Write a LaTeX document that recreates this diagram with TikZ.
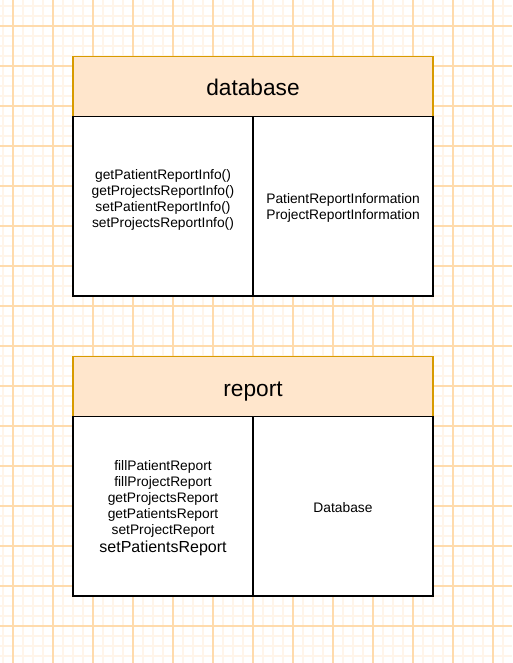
\documentclass[tikz,border=0pt]{standalone}
\usepackage{fontspec}
\setmainfont{Liberation Sans}
\definecolor{gridmajor}{RGB}{255,219,172}
\definecolor{gridminor}{RGB}{255,245,234}
\definecolor{hdrfill}{RGB}{255,230,204}
\definecolor{hdrdraw}{RGB}{215,155,0}
\begin{document}
\begin{tikzpicture}[x=0.75pt,y=-0.75pt,
  hdrbox/.style={fill=hdrfill,draw=hdrdraw,line width=0.8pt},
  bodybox/.style={fill=white,draw=black,line width=0.9pt},
  hdrtext/.style={inner sep=0pt,anchor=base,font=\fontsize{17}{20}\selectfont},
  celltext/.style={inner sep=0pt,align=center,font=\fontsize{10.35}{12}\selectfont},
  bigtext/.style={inner sep=0pt,font=\fontsize{12}{14}\selectfont}]
\useasboundingbox (0,0) rectangle (512,663);
\fill[white] (0,0) rectangle (512,663);
% minor grid
\foreach \x in {3,23,33,43,63,73,83,103,113,123,143,153,163,183,193,203,223,233,243,263,273,283,303,313,323,343,353,363,383,393,403,423,433,443,463,473,483,503}
  \draw[gridminor,line width=1pt] (\x,0) -- (\x,663);
\foreach \y in {6,16,36,46,56,76,86,96,116,126,136,156,166,176,196,206,216,236,246,256,276,286,296,316,326,336,356,366,376,396,406,416,436,446,456,476,486,496,516,526,536,556,566,576,596,606,616,636,646,656}
  \draw[gridminor,line width=1pt] (0,\y) -- (512,\y);
% major grid
\foreach \x in {13,53,...,493}
  \draw[gridmajor,line width=0.8pt] (\x,0) -- (\x,663);
\foreach \y in {26,66,...,646}
  \draw[gridmajor,line width=0.8pt] (0,\y) -- (512,\y);
% database class
\draw[hdrbox] (73,56.5) rectangle (433,116.5);
\node[hdrtext] (dbtitle) at (253,96) {database};
\draw[bodybox] (73,116.5) rectangle (433,296);
\draw[bodybox] (253,116.5) -- (253,296);
\node[celltext] (dbmethods) at (163,199.5) {getPatientReportInfo()\\getProjectsReportInfo()\\setPatientReportInfo()\\setProjectsReportInfo()};
\node[celltext] (dbattrs) at (343,207.5) {PatientReportInformation\\ProjectReportInformation};
% report class
\draw[hdrbox] (73,356.5) rectangle (433,416.5);
\node[hdrtext] (rptitle) at (253,396) {report};
\draw[bodybox] (73,416.5) rectangle (433,596);
\draw[bodybox] (253,416.5) -- (253,596);
\node[celltext] (rpmethods) at (163,498.5) {fillPatientReport\\fillProjectReport\\getProjectsReport\\getPatientsReport\\setProjectReport};
\node[bigtext] (rplast) at (163,548) {setPatientsReport};
\node[celltext] (rpattrs) at (343,507.5) {Database};
\end{tikzpicture}
\end{document}
